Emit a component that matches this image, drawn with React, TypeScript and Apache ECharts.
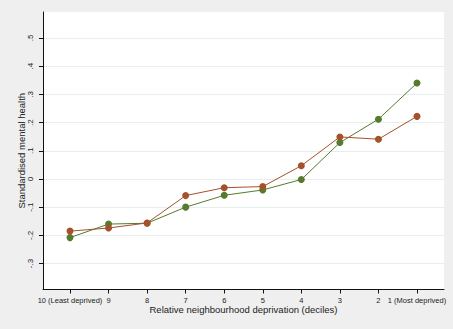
import React, { useEffect, useRef } from "react";
import * as echarts from "echarts";

const deciles = ["10 (Least deprived)", "9", "8", "7", "6", "5", "4", "3", "2", "1 (Most deprived)"];
const greenSeries = [-0.208, -0.160, -0.157, -0.100, -0.058, -0.039, -0.002, 0.129, 0.212, 0.340];
const orangeSeries = [-0.185, -0.174, -0.156, -0.059, -0.031, -0.027, 0.047, 0.149, 0.141, 0.222];
const yTicks = [-0.3, -0.2, -0.1, 0, 0.1, 0.2, 0.3, 0.4, 0.5];
const yTickLabels = ["-.3", "-.2", "-.1", "0", ".1", ".2", ".3", ".4", ".5"];

const FONT = "Liberation Sans, Arial, sans-serif";

export default function App() {
  const ref = useRef<HTMLDivElement>(null);
  useEffect(() => {
    if (!ref.current) return;
    const chart = echarts.init(ref.current, undefined, { renderer: "svg" });
    const xIdx = deciles.map((_, i) => i);
    chart.setOption({
      animation: false,
      backgroundColor: "#efefef",
      grid: {
        left: 43,
        top: 12,
        width: 401,
        height: 277.5,
        show: true,
        backgroundColor: "#ffffff",
        borderWidth: 0,
      },
      xAxis: {
        type: "value",
        min: -0.7,
        max: 9.7,
        name: "Relative neighbourhood deprivation (deciles)",
        nameLocation: "middle",
        nameGap: 15,
        nameMoveOverlap: false,
        nameTextStyle: { color: "#222", fontSize: 9.5, fontFamily: FONT },
        axisLine: { show: true, onZero: false, lineStyle: { color: "#111", width: 1 } },
        axisTick: { show: true, length: 4, customValues: xIdx, lineStyle: { color: "#111" } },
        axisLabel: {
          customValues: xIdx,
          formatter: (v: number) => deciles[Math.round(v)] ?? "",
          color: "#222",
          fontSize: 7.5,
          fontFamily: FONT,
          margin: 7,
          hideOverlap: false,
        },
        splitLine: { show: false },
      },
      yAxis: {
        type: "value",
        min: -0.392,
        max: 0.592,
        name: "Standardised mental health",
        nameLocation: "middle",
        nameRotate: 90,
        nameGap: 17,
        nameMoveOverlap: false,
        nameTextStyle: { color: "#222", fontSize: 9.5, fontFamily: FONT },
        axisLine: { show: true, onZero: false, lineStyle: { color: "#111", width: 1 } },
        axisTick: { show: true, length: 4, customValues: yTicks, lineStyle: { color: "#111" } },
        axisLabel: {
          customValues: yTicks,
          formatter: (v: number) => {
            const i = yTicks.findIndex((t) => Math.abs(t - v) < 1e-6);
            return i >= 0 ? yTickLabels[i] : "";
          },
          rotate: 90,
          color: "#222",
          fontSize: 8,
          fontFamily: FONT,
          margin: 9,
        },
        splitLine: { show: true, lineStyle: { color: "#e6eeee", width: 1 } },
      },
      series: [
        {
          type: "line",
          data: greenSeries.map((v, i) => [i, v]),
          symbol: "circle",
          symbolSize: 7,
          itemStyle: { color: "#567b2c" },
          lineStyle: { color: "#567b2c", width: 1 },
          z: 2,
        },
        {
          type: "line",
          data: orangeSeries.map((v, i) => [i, v]),
          symbol: "circle",
          symbolSize: 7,
          itemStyle: { color: "#a4512c" },
          lineStyle: { color: "#a4512c", width: 1 },
          z: 3,
        },
      ],
    });
    return () => chart.dispose();
  }, []);
  return (
    <div
      ref={ref}
      style={{ position: "absolute", left: 0, top: 0, width: 453, height: 329 }}
    />
  );
}
